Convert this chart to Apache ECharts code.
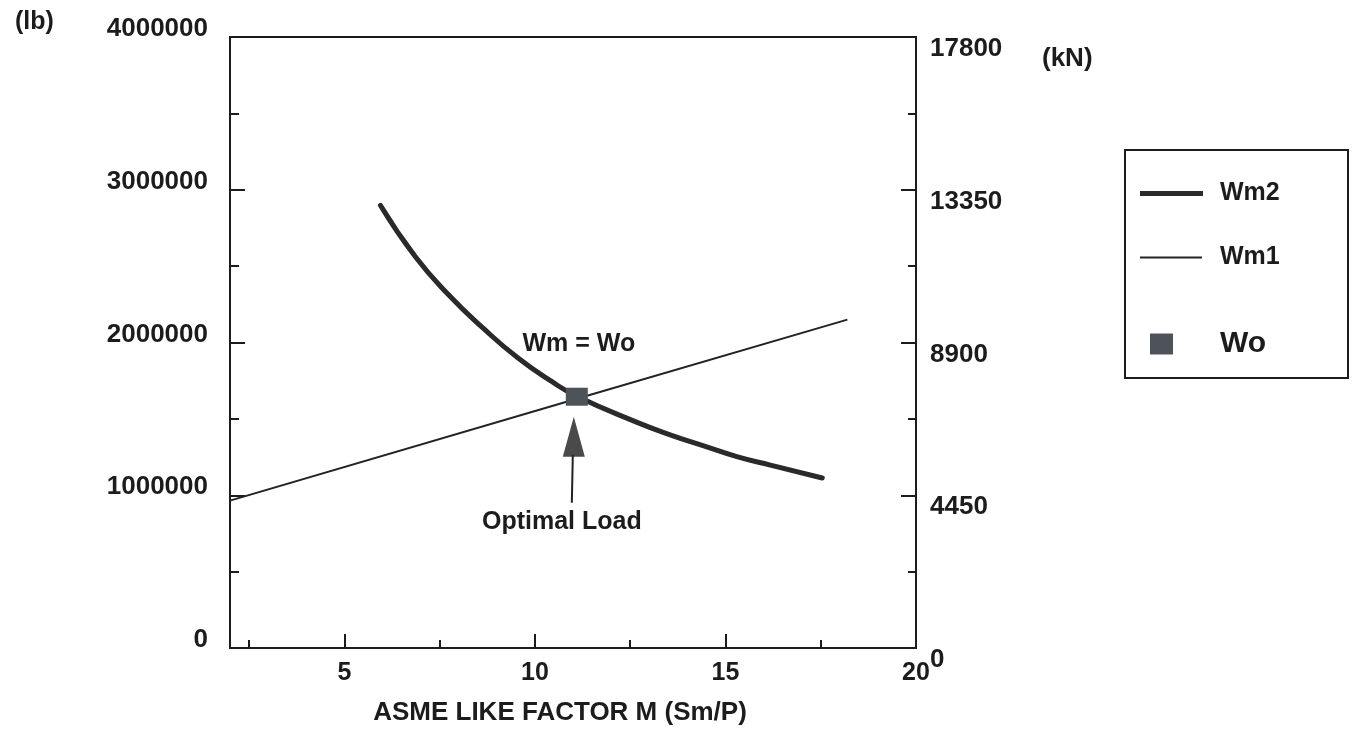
<!DOCTYPE html>
<html>
<head>
<meta charset="utf-8">
<script src="https://cdn.jsdelivr.net/npm/echarts@6/dist/echarts.min.js"></script>
<style>
  html, body { margin: 0; padding: 0; background: #fff; }
  #chart { width: 1355px; height: 745px; }
</style>
</head>
<body>
<div id="chart"></div>
<script>
// values (x = M, y = load in lb)
const wm2Data = [
  [5.95, 2897000], [6.86, 2563000], [7.76, 2306000], [8.65, 2092000],
  [9.55, 1900000], [10.44, 1745000], [11.1, 1648000], [12.65, 1480000],
  [13.53, 1397000], [14.41, 1325000], [15.3, 1253000], [16.18, 1197000],
  [17.54, 1113000]
];
const wm1Data = [[2, 965000], [11.1, 1632000], [18.2, 2150000]];
const woData = [[11.1, 1645000]];

const xMajorTicks = [5, 10, 15, 20];
const xMinorTicks = [2.5, 7.5, 12.5, 17.5];
const lbMax = 4000000, lbStep = 1000000;
const knMax = 17800, knStep = 4450;

const ink = '#1c1c1c';
const fontFamily = "'Liberation Sans', Arial, sans-serif";

const chart = echarts.init(document.getElementById('chart'));

const labelStyle = (size) => ({
  color: ink, fontSize: size, fontWeight: 'bold', fontFamily: fontFamily
});

const option = {
  backgroundColor: '#fff',
  animation: false,
  grid: {
    show: true, left: 230, top: 37, width: 686, height: 611,
    borderColor: ink, borderWidth: 2, backgroundColor: 'transparent'
  },
  xAxis: [{
    type: 'value', min: 2, max: 20, position: 'bottom',
    axisLine: { show: false },
    axisTick: { inside: true, length: 14, customValues: xMajorTicks, lineStyle: { color: ink, width: 2 } },
    axisLabel: Object.assign({ customValues: xMajorTicks, margin: 13 }, labelStyle(25)),
    splitLine: { show: false },
    name: 'ASME LIKE FACTOR M (Sm/P)',
    nameLocation: 'middle', nameGap: 52,
    nameTextStyle: Object.assign({ padding: [0, 26, 0, 0] }, labelStyle(26))
  }, {
    type: 'value', min: 2, max: 20, position: 'bottom',
    axisLine: { show: false },
    axisTick: { inside: true, length: 8, customValues: xMinorTicks, lineStyle: { color: ink, width: 2 } },
    axisLabel: { show: false },
    splitLine: { show: false }
  }],
  yAxis: [{
    type: 'value', min: 0, max: lbMax, interval: lbStep, position: 'left',
    axisLine: { show: false },
    axisTick: { inside: true, length: 15, lineStyle: { color: ink, width: 2 } },
    minorTick: { show: true, splitNumber: 2, length: 9, lineStyle: { color: ink, width: 2 } },
    axisLabel: {
      margin: 22, formatter: v => '{a|' + v + '}',
      rich: { a: Object.assign({ padding: [0, 0, 16, 0] }, labelStyle(26)) }
    },
    splitLine: { show: false }
  }, {
    type: 'value', min: 0, max: knMax, interval: knStep, position: 'right',
    axisLine: { show: false },
    axisTick: { inside: true, length: 15, lineStyle: { color: ink, width: 2 } },
    minorTick: { show: true, splitNumber: 2, length: 8, lineStyle: { color: ink, width: 2 } },
    axisLabel: {
      margin: 14, formatter: v => '{a|' + v + '}',
      rich: { a: Object.assign({ padding: [24, 0, 0, 0] }, labelStyle(26)) }
    },
    splitLine: { show: false }
  }],
  legend: [{
    data: ['Wm2'], left: 1140, top: 181, itemWidth: 63, itemHeight: 5, icon: 'rect',
    selectedMode: false, padding: 0,
    textStyle: Object.assign({ padding: [0, 0, 0, 12] }, labelStyle(25))
  }, {
    data: ['Wm1'], left: 1140, top: 245, itemWidth: 62, itemHeight: 2, icon: 'rect',
    selectedMode: false, padding: 0,
    textStyle: Object.assign({ padding: [0, 0, 0, 13] }, labelStyle(25))
  }, {
    data: ['Wo'], left: 1150, top: 329, itemWidth: 23, itemHeight: 21, icon: 'rect',
    selectedMode: false, padding: 0,
    textStyle: Object.assign({ padding: [0, 0, 0, 42] }, labelStyle(30))
  }],
  series: [{
    name: 'Wm2', type: 'line', data: wm2Data, smooth: true,
    symbol: 'none', showSymbol: false,
    lineStyle: { color: '#2a2a2a', width: 5, cap: 'round' },
    itemStyle: { color: '#2a2a2a' }, z: 3
  }, {
    name: 'Wm1', type: 'line', data: wm1Data,
    symbol: 'none', showSymbol: false,
    lineStyle: { color: '#222', width: 2 },
    itemStyle: { color: '#222' }, z: 2
  }, {
    name: 'Wo', type: 'scatter', data: woData,
    symbol: 'rect', symbolSize: [22, 18],
    itemStyle: { color: '#4e535a', opacity: 1 }, z: 5
  }]
};

chart.setOption(option);

// annotations placed relative to the Wo point
const wo = chart.convertToPixel({ xAxisIndex: 0, yAxisIndex: 0 }, woData[0]);
const cx = wo[0], cy = wo[1];

chart.setOption({
  graphic: [
    { type: 'rect', shape: { x: 1125, y: 150, width: 223, height: 228 },
      style: { fill: 'none', stroke: ink, lineWidth: 2 } },
    { type: 'text', left: 15, top: 10,
      style: { text: '(lb)', fill: ink, font: "bold 25px " + fontFamily } },
    { type: 'text', left: 1042, top: 46,
      style: { text: '(kN)', fill: ink, font: "bold 26px " + fontFamily } },
    { type: 'text', x: cx + 2, y: cy - 53,
      style: { text: 'Wm = Wo', fill: ink, font: "bold 25px " + fontFamily, align: 'center', verticalAlign: 'middle' } },
    { type: 'text', x: cx - 15, y: cy + 125,
      style: { text: 'Optimal Load', fill: ink, font: "bold 25px " + fontFamily, align: 'center', verticalAlign: 'middle' } },
    { type: 'polygon', shape: { points: [[cx - 3, cy + 20], [cx - 14, cy + 60], [cx + 8, cy + 60]] },
      style: { fill: '#4a4a4a' } },
    { type: 'line', shape: { x1: cx - 4, y1: cy + 58, x2: cx - 5, y2: cy + 106 },
      style: { stroke: '#222', lineWidth: 2 } }
  ]
});
</script>
</body>
</html>
